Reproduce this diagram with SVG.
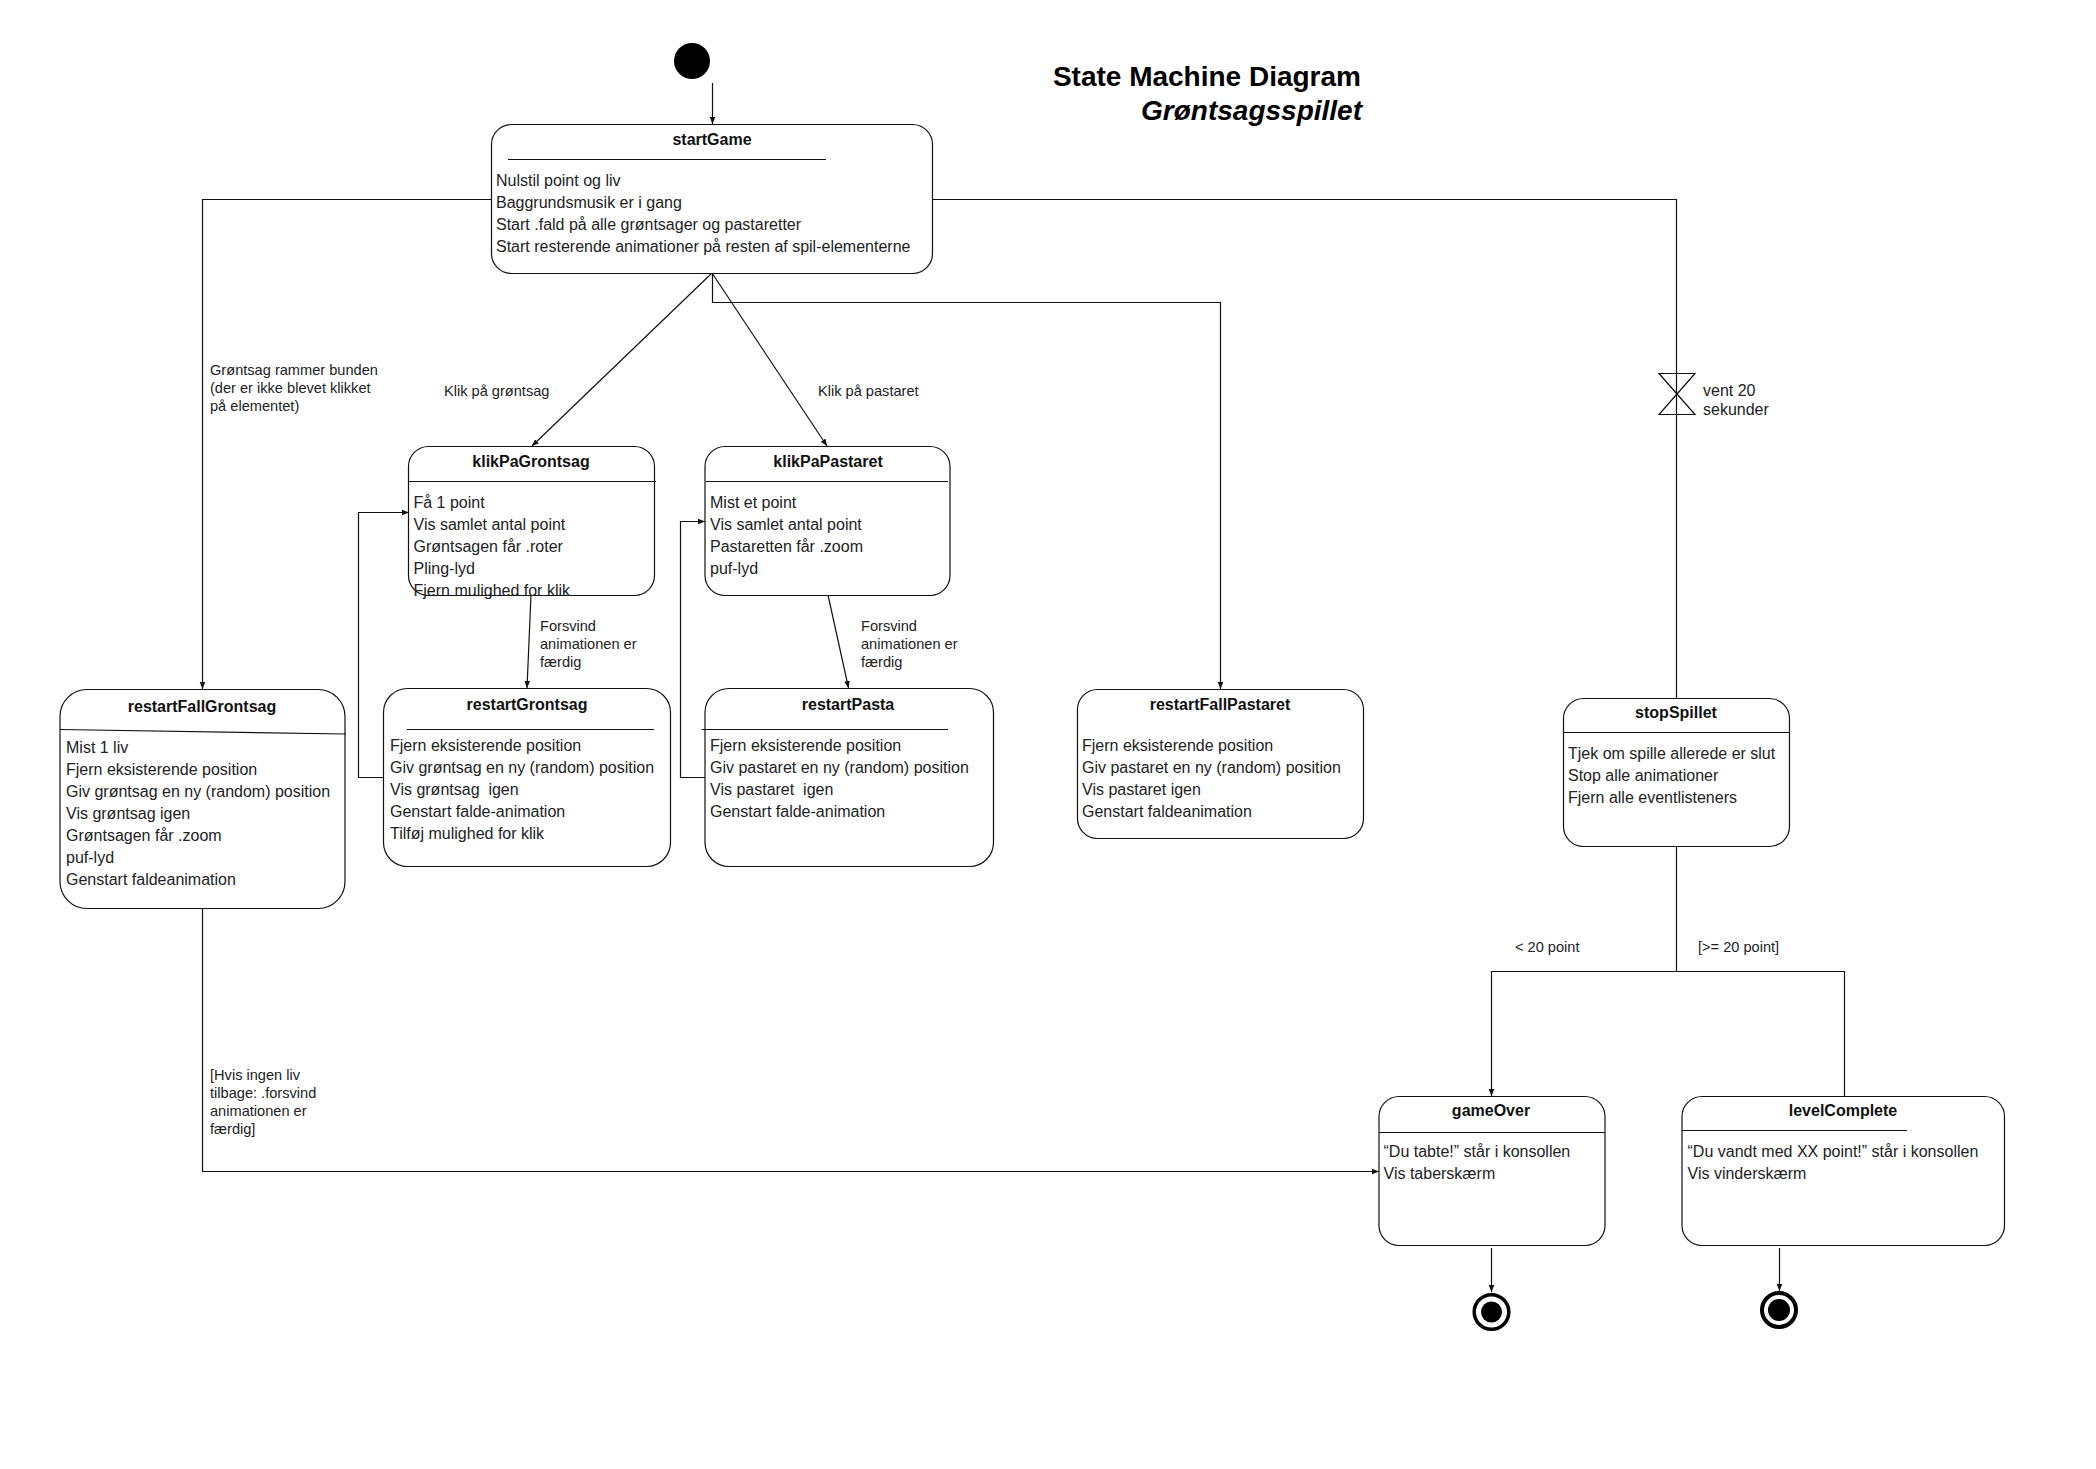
<svg xmlns="http://www.w3.org/2000/svg" width="2096" height="1469" viewBox="0 0 2096 1469">
<defs><marker id="a" markerUnits="userSpaceOnUse" markerWidth="8" markerHeight="8" refX="7" refY="4" orient="auto"><path d="M0 1.200 L7 4 L0 6.800 Z" fill="#111"/></marker></defs>
<style>
text{font-family:"Liberation Sans",Arial,sans-serif;fill:#222;font-size:16px}
.t{font-weight:700;text-anchor:middle;fill:#111}
.l{font-size:14.600px}
.h{font-weight:700;font-size:28px;text-anchor:end;fill:#000}
rect{fill:#fff;stroke:#111;stroke-width:1.200}
#conn path,.d{fill:none;stroke:#111;stroke-width:1.200}
.ar{marker-end:url(#a)}
</style>
<rect width="2096" height="1469" style="fill:#fff;stroke:none"/>
<g id="conn">
<path class="ar" d="M712.500 83V124"/>
<path class="ar" d="M491 199.500H202.500V689"/>
<path d="M933 199.500H1676.500V698"/>
<path class="ar" d="M712 273L532 446"/>
<path class="ar" d="M712 273L827 446"/>
<path class="ar" d="M712.500 273V302.500H1220.500V689"/>
<path class="ar" d="M531 595L527 688"/>
<path class="ar" d="M828 595L848.500 688"/>
<path class="ar" d="M383 777.500H358.500V512.500H409"/>
<path class="ar" d="M705 777.500H680.500V521.500H705"/>
<path class="ar" d="M202.500 908V1171.500H1379"/>
<path d="M1676.500 846V972"/>
<path class="ar" d="M1844.500 1096V971.500H1491.500V1096"/>
<path class="ar" d="M1491.500 1248V1292"/>
<path class="ar" d="M1779.500 1248V1291"/>
<path d="M1659 373.500H1695L1659 414.500H1695Z"/>
</g>
<g id="start"><circle cx="692" cy="61" r="18" fill="#000"/></g>
<g id="title"><text class="h" x="1361" y="86">State Machine Diagram</text><text class="h" x="1362" y="120" font-style="italic">Grøntsagsspillet</text></g>
<g id="startGame"><rect x="491.500" y="124.500" width="441" height="149" rx="20"/><path class="d" d="M508 159.500H826"/><text class="t" x="712" y="145">startGame</text>
<text x="496" y="186">Nulstil point og liv</text><text x="496" y="208">Baggrundsmusik er i gang</text><text x="496" y="230">Start .fald på alle grøntsager og pastaretter</text><text x="496" y="252">Start resterende animationer på resten af spil-elementerne</text></g>
<g id="klikPaGrontsag"><rect x="408.500" y="446.500" width="246" height="149" rx="20"/><path class="d" d="M408.500 481.500H656"/><text class="t" x="531" y="467">klikPaGrontsag</text>
<text x="413.500" y="508">Få 1 point</text><text x="413.500" y="530">Vis samlet antal point</text><text x="413.500" y="552">Grøntsagen får .roter</text><text x="413.500" y="574">Pling-lyd</text><text x="413.500" y="596">Fjern mulighed for klik</text></g>
<g id="klikPaPastaret"><rect x="705" y="446.500" width="245" height="149" rx="20"/><path class="d" d="M706 481.500H948"/><text class="t" x="828" y="467">klikPaPastaret</text>
<text x="710" y="508">Mist et point</text><text x="710" y="530">Vis samlet antal point</text><text x="710" y="552">Pastaretten får .zoom</text><text x="710" y="574">puf-lyd</text></g>
<g id="restartFallGrontsag"><rect x="60" y="689.500" width="285" height="219" rx="27"/><path class="d" d="M60 729.500L346 734"/><text class="t" x="202" y="712">restartFallGrontsag</text>
<text x="66" y="753">Mist 1 liv</text><text x="66" y="775">Fjern eksisterende position</text><text x="66" y="797">Giv grøntsag en ny (random) position</text><text x="66" y="819">Vis grøntsag igen</text><text x="66" y="841">Grøntsagen får .zoom</text><text x="66" y="863">puf-lyd</text><text x="66" y="885">Genstart faldeanimation</text></g>
<g id="restartGrontsag"><rect x="383.500" y="688.500" width="287" height="178" rx="24"/><path class="d" d="M407 729.500H654"/><text class="t" x="527" y="710">restartGrontsag</text>
<text x="390" y="751">Fjern eksisterende position</text><text x="390" y="773">Giv grøntsag en ny (random) position</text><text x="390" y="795" xml:space="preserve">Vis grøntsag  igen</text><text x="390" y="817">Genstart falde-animation</text><text x="390" y="839">Tilføj mulighed for klik</text></g>
<g id="restartPasta"><rect x="705" y="688.500" width="288.500" height="178" rx="24"/><path class="d" d="M701.500 729.500H948"/><text class="t" x="848" y="710">restartPasta</text>
<text x="710" y="751">Fjern eksisterende position</text><text x="710" y="773">Giv pastaret en ny (random) position</text><text x="710" y="795" xml:space="preserve">Vis pastaret  igen</text><text x="710" y="817">Genstart falde-animation</text></g>
<g id="restartFallPastaret"><rect x="1077.500" y="689.500" width="286" height="149" rx="20"/><text class="t" x="1220" y="710">restartFallPastaret</text>
<text x="1082" y="751">Fjern eksisterende position</text><text x="1082" y="773">Giv pastaret en ny (random) position</text><text x="1082" y="795">Vis pastaret igen</text><text x="1082" y="817">Genstart faldeanimation</text></g>
<g id="stopSpillet"><rect x="1563.500" y="698.500" width="226" height="148" rx="20"/><path class="d" d="M1563.500 732.500H1790"/><text class="t" x="1676" y="718">stopSpillet</text>
<text x="1568" y="759">Tjek om spille allerede er slut</text><text x="1568" y="781">Stop alle animationer</text><text x="1568" y="803">Fjern alle eventlisteners</text></g>
<g id="gameOver"><rect x="1379" y="1096.500" width="226" height="149" rx="20"/><path class="d" d="M1379 1132.500H1605"/><text class="t" x="1491" y="1116">gameOver</text>
<text x="1383.500" y="1157">“Du tabte!” står i konsollen</text><text x="1383.500" y="1179">Vis taberskærm</text></g>
<g id="levelComplete"><rect x="1682" y="1096.500" width="322.500" height="149" rx="20"/><path class="d" d="M1682 1130.500H1907"/><text class="t" x="1843" y="1116">levelComplete</text>
<text x="1687.500" y="1157">“Du vandt med XX point!” står i konsollen</text><text x="1687.500" y="1179">Vis vinderskærm</text></g>
<g id="end1"><circle cx="1491.500" cy="1312" r="17.300" fill="#fff" stroke="#000" stroke-width="3.500"/><circle cx="1491.500" cy="1312" r="10.500" fill="#000"/></g>
<g id="end2"><circle cx="1779" cy="1310" r="17" fill="#fff" stroke="#000" stroke-width="4"/><circle cx="1779" cy="1310" r="11" fill="#000"/></g>
<g id="labels">
<text class="l" x="210" y="375">Grøntsag rammer bunden</text><text class="l" x="210" y="393">(der er ikke blevet klikket</text><text class="l" x="210" y="411">på elementet)</text>
<text class="l" x="444" y="396">Klik på grøntsag</text><text class="l" x="818" y="396">Klik på pastaret</text>
<text class="l" x="540" y="631">Forsvind</text><text class="l" x="540" y="649">animationen er</text><text class="l" x="540" y="667">færdig</text>
<text class="l" x="861" y="631">Forsvind</text><text class="l" x="861" y="649">animationen er</text><text class="l" x="861" y="667">færdig</text>
<text x="1703" y="396">vent 20</text><text x="1703" y="415">sekunder</text>
<text class="l" x="1515" y="952">&lt; 20 point</text><text class="l" x="1698" y="952">[&gt;= 20 point]</text>
<text class="l" x="210" y="1080">[Hvis ingen liv</text><text class="l" x="210" y="1098">tilbage: .forsvind</text><text class="l" x="210" y="1116">animationen er</text><text class="l" x="210" y="1134">færdig]</text>
</g>
</svg>
